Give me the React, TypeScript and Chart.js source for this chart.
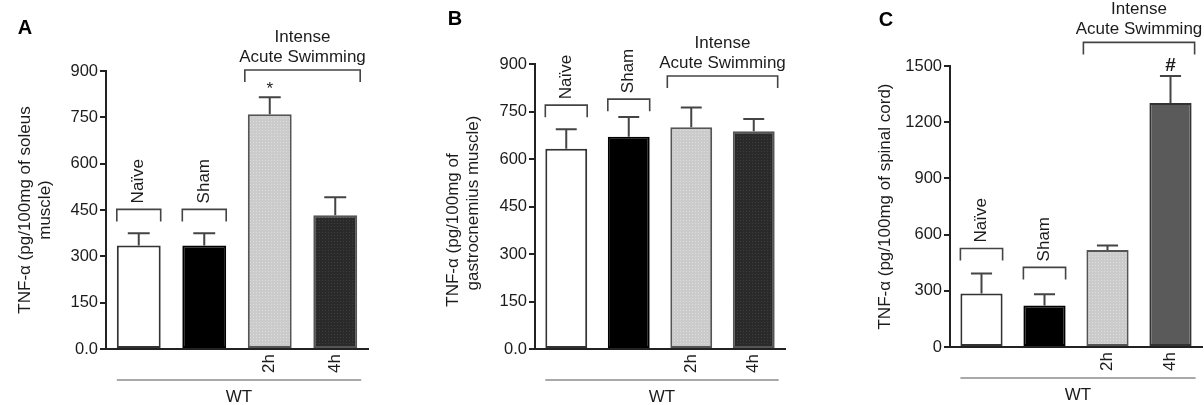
import React, { useEffect, useRef } from "react";
import { Chart, registerables } from "chart.js";

Chart.register(...registerables);

// ---------- DATA ----------
const categories = ["Naïve", "Sham", "2h", "4h"];
const groupLabel = ["Intense", "Acute Swimming"];
const genotypeLabel = "WT";

const soleusMeans = [335, 335, 760, 433];
const soleusErrors = [40, 40, 55, 58];
const soleusTickLabels = ["0.0", "150", "300", "450", "600", "750", "900"];
const soleusMarkers = ["", "", "*", ""];
const soleusBracketLevels = [452, 452, 903];
const soleusTitle = ["TNF-α (pg/100mg of soleus", "muscle)"];

const gastrocMeans = [632, 670, 700, 688];
const gastrocErrors = [62, 63, 63, 38];
const gastrocTickLabels = ["0.0", "150", "300", "450", "600", "750", "900"];
const gastrocMarkers = ["", "", "", ""];
const gastrocBracketLevels = [770, 789, 862];
const gastrocTitle = ["TNF-α (pg/100mg of", "gastrocnemius muscle)"];

const spinalMeans = [285, 222, 518, 1302];
const spinalErrors = [107, 59, 24, 145];
const spinalTickLabels = ["0", "300", "600", "900", "1200", "1500"];
const spinalMarkers = ["", "", "", "#"];
const spinalBracketLevels = [526, 425, 1626];
const spinalTitle = ["TNF-α (pg/100mg of spinal cord)"];

// ---------- STYLE ----------
const FONT = "'Liberation Sans', Arial, Helvetica, sans-serif";
const INK = "#1c1c1c";
const LINE = "#444";

function makePattern(base: string, dot: string) {
  const c = document.createElement("canvas");
  c.width = 3;
  c.height = 3;
  const g = c.getContext("2d")!;
  g.fillStyle = base;
  g.fillRect(0, 0, 3, 3);
  g.fillStyle = dot;
  g.fillRect(1, 1, 1, 1);
  return g.createPattern(c, "repeat");
}

const annotatePlugin = {
  id: "annotate",
  afterDatasetsDraw(chart: any, _args: any, opts: any) {
    const ctx = chart.ctx as CanvasRenderingContext2D;
    const ys = chart.scales.y;
    const bars = chart.getDatasetMeta(0).data;
    const means: number[] = chart.data.datasets[0].data;
    const errors: number[] = opts.errors;
    const markers: string[] = opts.markers;
    const levels: number[] = opts.bracketLevels;
    const ca = chart.chartArea;

    ctx.save();
    // error bars (upper)
    ctx.strokeStyle = LINE;
    ctx.lineWidth = 2;
    bars.forEach((b: any, i: number) => {
      const top = ys.getPixelForValue(means[i] + errors[i]);
      const half = b.width / 4;
      ctx.beginPath();
      ctx.moveTo(b.x, b.y);
      ctx.lineTo(b.x, top);
      ctx.moveTo(b.x - half, top);
      ctx.lineTo(b.x + half, top);
      ctx.stroke();
      if (markers[i]) {
        ctx.fillStyle = INK;
        ctx.textAlign = "center";
        if (markers[i] === "#") {
          ctx.font = "bold 19px " + FONT;
          ctx.textBaseline = "alphabetic";
          ctx.fillText(markers[i], b.x, top - 5);
        } else {
          ctx.font = "17px " + FONT;
          ctx.textBaseline = "middle";
          ctx.fillText(markers[i], b.x, top - 8);
        }
      }
    });

    // single-bar brackets with rotated labels
    ctx.lineWidth = 1.6;
    ctx.strokeStyle = LINE;
    ctx.fillStyle = INK;
    ctx.font = "17px " + FONT;
    for (let i = 0; i < 2; i++) {
      const b = bars[i];
      const py = ys.getPixelForValue(levels[i]);
      const l = b.x - b.width / 2;
      const r = b.x + b.width / 2;
      ctx.beginPath();
      ctx.moveTo(l, py + 12);
      ctx.lineTo(l, py);
      ctx.lineTo(r, py);
      ctx.lineTo(r, py + 12);
      ctx.stroke();
      ctx.save();
      ctx.translate(b.x, py - 6);
      ctx.rotate(-Math.PI / 2);
      ctx.textAlign = "left";
      ctx.textBaseline = "middle";
      ctx.fillText(categories[i], 0, 0);
      ctx.restore();
    }

    // group bracket
    {
      const b2 = bars[2];
      const b3 = bars[3];
      const py = ys.getPixelForValue(levels[2]);
      const l = b2.x - b2.width / 2 - 3;
      const r = b3.x + b3.width / 2 + 3;
      ctx.beginPath();
      ctx.moveTo(l, py + 12);
      ctx.lineTo(l, py);
      ctx.lineTo(r, py);
      ctx.lineTo(r, py + 12);
      ctx.stroke();
      ctx.textAlign = "center";
      ctx.textBaseline = "middle";
      ctx.fillText(groupLabel[0], (l + r) / 2, py - 33);
      ctx.fillText(groupLabel[1], (l + r) / 2, py - 13);
    }

    // genotype line
    {
      const l = bars[0].x - bars[0].width / 2;
      const r = bars[3].x + bars[3].width / 2 + 4;
      const py = ca.bottom + 31;
      ctx.lineWidth = 1.2;
      ctx.strokeStyle = "#555";
      ctx.beginPath();
      ctx.moveTo(l, py);
      ctx.lineTo(r, py);
      ctx.stroke();
      ctx.textAlign = "center";
      ctx.textBaseline = "middle";
      ctx.fillText(genotypeLabel, (l + r) / 2, py + 17);
    }

    // hand-set y title (panel B, whose lines are not centred on each other)
    if (opts.customTitle) {
      const ct = opts.customTitle;
      const titleLines: string[] = opts.titleLines;
      ctx.fillStyle = INK;
      ctx.font = "17px " + FONT;
      titleLines.forEach((t: string, i: number) => {
        ctx.save();
        ctx.translate(ct.x[i], ct.cy[i]);
        ctx.rotate(-Math.PI / 2);
        ctx.textAlign = "center";
        ctx.textBaseline = "middle";
        ctx.fillText(t, 0, 0);
        ctx.restore();
      });
    }

    // panel letter
    ctx.font = "bold 20px " + FONT;
    ctx.fillStyle = "#000";
    ctx.textAlign = "center";
    ctx.textBaseline = "middle";
    ctx.fillText(opts.letter, opts.letterX, opts.letterY);
    ctx.restore();
  },
};

interface Panel {
  means: number[];
  errors: number[];
  max: number;
  step: number;
  tickLabels: string[];
  title: string[];
  markers: string[];
  bracketLevels: number[];
  letter: string;
  letterX: number;
  letterY: number;
  pad: { left: number; right: number; top: number; bottom: number };
  yWidth: number;
  titlePad: number;
  darkColor: string | null;
  darkBorder: string;
  customTitle: { x: number[]; cy: number[] } | null;
}

function buildConfig(p: Panel): any {
  const light = makePattern("#cbcbcb", "#dddddd");
  const dark = p.darkColor ? p.darkColor : makePattern("#2a2a2a", "#3e3e3e");
  return {
    type: "bar",
    data: {
      labels: categories,
      datasets: [
        {
          data: p.means,
          backgroundColor: ["#ffffff", "#000000", light, dark],
          borderColor: ["#333", "#000", "#555", p.darkBorder],
          borderWidth: 2,
          borderSkipped: false,
          barPercentage: 0.67,
          categoryPercentage: 1,
        },
      ],
    },
    options: {
      animation: false,
      responsive: false,
      maintainAspectRatio: false,
      layout: { padding: p.pad },
      plugins: {
        legend: { display: false },
        tooltip: { enabled: false },
        annotate: {
          errors: p.errors,
          markers: p.markers,
          bracketLevels: p.bracketLevels,
          letter: p.letter,
          letterX: p.letterX,
          letterY: p.letterY,
          customTitle: p.customTitle,
          titleLines: p.title,
        },
      },
      scales: {
        x: {
          grid: { display: true, drawOnChartArea: false, drawTicks: false },
          border: { display: true, width: 2, color: "#222" },
          ticks: {
            minRotation: 90,
            maxRotation: 90,
            autoSkip: false,
            padding: 5,
            color: INK,
            font: { family: FONT, size: 17 },
            callback: (_v: any, i: number) => (i >= 2 ? categories[i] : ""),
          },
          afterFit: (s: any) => {
            s.height = 30;
          },
        },
        y: {
          min: 0,
          max: p.max,
          ticks: {
            stepSize: p.step,
            padding: 2,
            color: INK,
            font: { family: FONT, size: 16.5 },
            callback: (_v: any, i: number) => p.tickLabels[i],
          },
          grid: {
            drawOnChartArea: false,
            drawTicks: true,
            tickLength: 6,
            lineWidth: 2,
            color: "#222",
          },
          border: { display: true, width: 2, color: "#222" },
          title: {
            display: !p.customTitle,
            text: p.title,
            color: INK,
            font: { family: FONT, size: 17, lineHeight: 20 / 17 },
            padding: { top: p.titlePad, bottom: 0 },
          },
          afterFit: (s: any) => {
            s.width = p.yWidth;
          },
        },
      },
    },
    plugins: [annotatePlugin],
  };
}

const panels: Panel[] = [
  {
    means: soleusMeans,
    errors: soleusErrors,
    max: 900,
    step: 150,
    tickLabels: soleusTickLabels,
    title: soleusTitle,
    markers: soleusMarkers,
    bracketLevels: soleusBracketLevels,
    letter: "A",
    letterX: 25,
    letterY: 28,
    pad: { left: 5, right: 32, top: 71, bottom: 26 },
    yWidth: 101,
    titlePad: 10,
    darkColor: null,
    darkBorder: "#555",
    customTitle: null,
  },
  {
    means: gastrocMeans,
    errors: gastrocErrors,
    max: 900,
    step: 150,
    tickLabels: gastrocTickLabels,
    title: gastrocTitle,
    markers: gastrocMarkers,
    bracketLevels: gastrocBracketLevels,
    letter: "B",
    letterX: 55,
    letterY: 19,
    pad: { left: 5, right: 15, top: 64, bottom: 26 },
    yWidth: 130,
    titlePad: 38,
    darkColor: null,
    darkBorder: "#555",
    customTitle: { x: [53, 73], cy: [230, 203] },
  },
  {
    means: spinalMeans,
    errors: spinalErrors,
    max: 1500,
    step: 300,
    tickLabels: spinalTickLabels,
    title: spinalTitle,
    markers: spinalMarkers,
    bracketLevels: spinalBracketLevels,
    letter: "C",
    letterX: 86,
    letterY: 20,
    pad: { left: 5, right: 2, top: 66, bottom: 28 },
    yWidth: 145,
    titlePad: 70,
    darkColor: "#5a5a5a",
    darkBorder: "#333",
    customTitle: null,
  },
];

const widths = [400, 400, 404];
const lefts = [0, 400, 800];

function PanelChart({ panel, left, width }: { panel: Panel; left: number; width: number }) {
  const ref = useRef<HTMLCanvasElement>(null);
  useEffect(() => {
    if (!ref.current) return;
    const chart = new Chart(ref.current, buildConfig(panel));
    return () => chart.destroy();
  }, [panel]);
  return (
    <canvas
      ref={ref}
      width={width}
      height={405}
      style={{ position: "absolute", left, top: 0, width, height: 405 }}
    />
  );
}

export default function App() {
  return (
    <div
      style={{
        position: "fixed",
        left: 0,
        top: 0,
        width: 1204,
        height: 405,
        background: "#ffffff",
        overflow: "hidden",
      }}
    >
      {panels.map((p, i) => (
        <PanelChart key={i} panel={p} left={lefts[i]} width={widths[i]} />
      ))}
    </div>
  );
}
